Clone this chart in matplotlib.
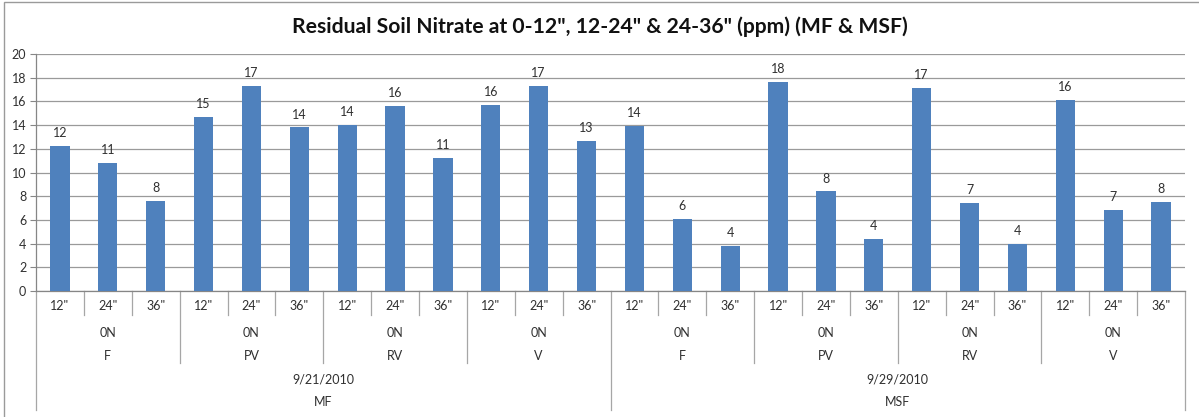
import matplotlib.pyplot as plt
from matplotlib.transforms import blended_transform_factory
from matplotlib.patches import Rectangle

# nitrate (ppm) by sampling depth, one value per bar
nitrate = [12.2, 10.8, 7.6, 14.7, 17.3, 13.8, 14.0, 15.6, 11.2, 15.7, 17.3, 12.7,
           13.9, 6.1, 3.8, 17.6, 8.4, 4.4, 17.1, 7.4, 4.0, 16.1, 6.8, 7.5]
depths = ['12"', '24"', '36"']
rates = ['0N']
varieties = ['F', 'PV', 'RV', 'V']
dates = ['9/21/2010', '9/29/2010']
sites = ['MF', 'MSF']

W, H = 1199, 417
fig = plt.figure(figsize=(W / 100, H / 100), dpi=100)
plt.rcParams['font.family'] = ['Lato', 'DejaVu Sans']

def fy(py):
    return 1 - py / H

ax = fig.add_axes([36 / W, fy(291), (1185 - 36) / W, (291 - 54) / H])
x = list(range(len(nitrate)))
bars = ax.bar(x, nitrate, width=0.4, color='#4f81bd', zorder=3)
for b, v in zip(bars, nitrate):
    ax.annotate(f"{v:.0f}", (b.get_x() + b.get_width() / 2, v), xytext=(0, 5),
                textcoords='offset points', ha='center', va='bottom',
                fontsize=9, color='#303030')

ax.set_xlim(-0.5, len(nitrate) - 0.5)
ax.set_ylim(0, 20)
ax.set_yticks(range(0, 21, 2))
ax.tick_params(axis='y', length=4, color='#868686', labelsize=9, labelcolor='#303030', pad=3)
ax.set_xticks([])
ax.grid(axis='y', color='#9a9a9a', linewidth=0.9, zorder=0)
for s in ['top', 'right']:
    ax.spines[s].set_visible(False)
for s in ['left', 'bottom']:
    ax.spines[s].set_color('#868686')
    ax.spines[s].set_linewidth(0.9)

fig.text(600 / W, fy(27), 'Residual Soil Nitrate at 0-12", 12-24" & 24-36" (ppm) (MF & MSF)',
         fontsize=15.2, fontweight='bold', color='#111111', ha='center', va='center')

# multi-level category axis below the plot
tr = blended_transform_factory(ax.transData, fig.transFigure)
line_kw = dict(color='#a6a6a6', linewidth=0.9, transform=tr, clip_on=False)
txt_kw = dict(transform=tr, ha='center', va='center', fontsize=9, color='#303030')

n = len(depths)
i = 0
for site, date in zip(sites, dates):
    start_site = i
    for var in varieties:
        start_var = i
        for rate in rates:
            for d in depths:
                ax.text(i, fy(306), d, **txt_kw)
                i += 1
            ax.text((start_var + i - 1) / 2, fy(333), rate, **txt_kw)
        ax.text((start_var + i - 1) / 2, fy(356), var, **txt_kw)
    ax.text((start_site + i - 1) / 2, fy(379), date, **txt_kw)
    ax.text((start_site + i - 1) / 2, fy(402), site, **txt_kw)

per_var = n * len(rates)
per_site = per_var * len(varieties)
for k in range(len(nitrate) + 1):
    xb = k - 0.5
    if k % per_site == 0:
        bottom = 410
    elif k % per_var == 0:
        bottom = 363
    else:
        bottom = 315
    ax.plot([xb, xb], [fy(291), fy(bottom)], **line_kw)

# chart area frame
fig.patches.append(Rectangle((4 / W, -0.01), 1.0, fy(2) + 0.01, transform=fig.transFigure,
                             fill=False, edgecolor='#9a9a9a', linewidth=1.0))

fig.savefig('out.png', dpi=100)
